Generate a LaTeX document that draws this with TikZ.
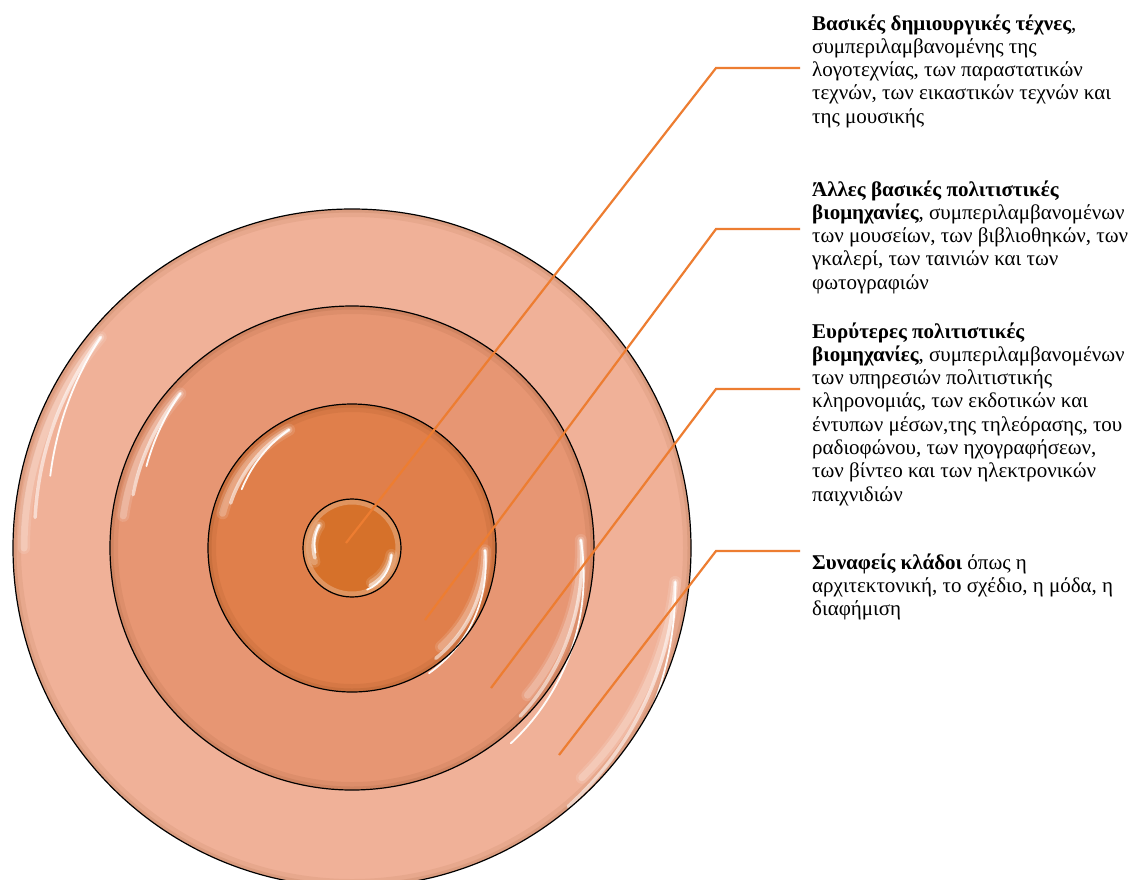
\documentclass[tikz,border=0pt]{standalone}
\usepackage{fontspec}
\setmainfont{Liberation Serif}
\definecolor{ringA}{RGB}{240,177,152}
\definecolor{ringB}{RGB}{231,150,115}
\definecolor{ringC}{RGB}{224,127,75}
\definecolor{ringD}{RGB}{214,113,42}
\definecolor{leadcol}{RGB}{237,125,49}
\newcommand\mkglint[3]{%
  \draw[gA] ([shift={(#2:#1)}]c) arc[start angle=#2, end angle=#3, radius=#1];
  \draw[gB] ([shift={(#2:#1)}]c) arc[start angle=#2, end angle=#3, radius=#1];
  \draw[gC] ([shift={(#2:#1)}]c) arc[start angle=#2+3, end angle=#3-3, radius=#1];
  \draw[gD] ([shift={(#2:#1)}]c) arc[start angle=#2+7, end angle=#3-7, radius=#1];}
\newcommand\mktext[1]{\parbox[t]{340pt}{\raggedright\fontsize{21}{23.3}\selectfont #1}}
\begin{document}
\begin{tikzpicture}[x=1pt,y=-1pt,
  ring/.style={draw=black, line width=1.2pt},
  rimA/.style={line width=8pt, opacity=0.10},
  rimB/.style={line width=3pt, opacity=0.15},
  gA/.style={draw=white, line width=12pt, opacity=0.12, line cap=round},
  gB/.style={draw=white, line width=7pt, opacity=0.22, line cap=round},
  gC/.style={draw=white, line width=3.5pt, opacity=0.55, line cap=round},
  gD/.style={draw=white, line width=1.8pt, opacity=0.95, line cap=round},
  leader/.style={draw=leadcol, line width=2.2pt},
  label/.style={anchor=base west, inner sep=0pt}]
\useasboundingbox (0,0) rectangle (1135,879);
\fill[white] (0,0) rectangle (1135,879);
\coordinate (c) at (352,548);
% rings
\fill[ringA] (c) circle[radius=339pt];
\draw[rimA, draw=ringC!70!black] (c) circle[radius=335pt];
\draw[rimB, draw=ringC!70!black] (c) circle[radius=337pt];
\mkglint{328pt}{140}{180}
\mkglint{325pt}{-6}{-45}
\draw[ring] (c) circle[radius=339pt];
\fill[ringB] (c) circle[radius=242pt];
\draw[rimA, draw=ringC!60!black] (c) circle[radius=238pt];
\draw[rimB, draw=ringC!60!black] (c) circle[radius=240pt];
\mkglint{231pt}{138}{172}
\mkglint{229pt}{2}{-40}
\draw[ring] (c) circle[radius=242pt];
\fill[ringC] (c) circle[radius=144pt];
\draw[rimA, draw=ringD!60!black] (c) circle[radius=140pt];
\draw[rimB, draw=ringD!60!black] (c) circle[radius=142pt];
\mkglint{134pt}{118}{165}
\mkglint{133pt}{-1}{-48}
\draw[ring] (c) circle[radius=144pt];
\fill[ringD] (c) circle[radius=49pt];
\draw[line width=5pt, draw=white, opacity=0.25] (c) circle[radius=46pt];
\mkglint{40pt}{145}{200}
\mkglint{40pt}{-10}{-60}
\draw[ring] (c) circle[radius=49pt];
% labels
\node[label] (t1) at (812,30) {\mktext{\textbf{Βασικές δημιουργικές τέχνες},\\
συμπεριλαμβανομένης της\\ λογοτεχνίας, των παραστατικών\\ τεχνών, των εικαστικών τεχνών και\\ της μουσικής}};
\node[label] (t2) at (812,196) {\mktext{\textbf{Άλλες βασικές πολιτιστικές}\\
\textbf{βιομηχανίες}, συμπεριλαμβανομένων\\ των μουσείων, των βιβλιοθηκών, των\\ γκαλερί, των ταινιών και των\\ φωτογραφιών}};
\node[label] (t3) at (812,338) {\mktext{\textbf{Ευρύτερες πολιτιστικές}\\
\textbf{βιομηχανίες}, συμπεριλαμβανομένων\\ των υπηρεσιών πολιτιστικής\\ κληρονομιάς, των εκδοτικών και\\ έντυπων μέσων,της τηλεόρασης, του\\ ραδιοφώνου, των ηχογραφήσεων,\\ των βίντεο και των ηλεκτρονικών\\ παιχνιδιών}};
\node[label] (t4) at (812,569) {\mktext{\textbf{Συναφείς κλάδοι} όπως η\\ αρχιτεκτονική, το σχέδιο, η μόδα, η\\ διαφήμιση}};
% leaders
\coordinate (p1) at (346,543); \coordinate (e1) at (716,68);  \coordinate (h1) at (800,68);
\coordinate (p2) at (425,620); \coordinate (e2) at (716,229); \coordinate (h2) at (800,229);
\coordinate (p3) at (491,688); \coordinate (e3) at (716,389); \coordinate (h3) at (800,389);
\coordinate (p4) at (559,755); \coordinate (e4) at (716,551); \coordinate (h4) at (800,551);
\draw[leader] (p1) -- (e1) -- (h1);
\draw[leader] (p2) -- (e2) -- (h2);
\draw[leader] (p3) -- (e3) -- (h3);
\draw[leader] (p4) -- (e4) -- (h4);
\end{tikzpicture}
\end{document}
